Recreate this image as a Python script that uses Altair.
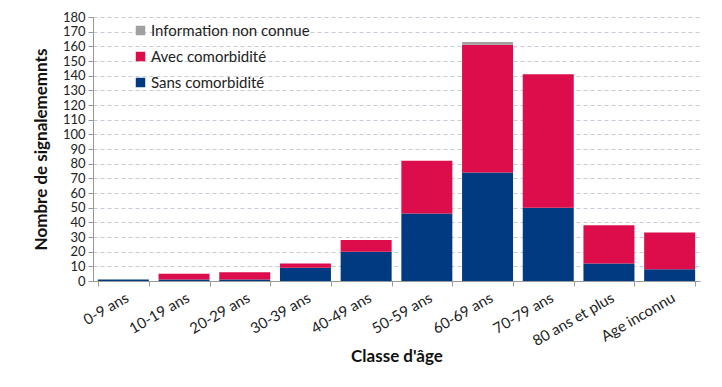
import altair as alt
import pandas as pd

classes = ["0-9 ans", "10-19 ans", "20-29 ans", "30-39 ans", "40-49 ans",
           "50-59 ans", "60-69 ans", "70-79 ans", "80 ans et plus", "Age inconnu"]
sans = [1, 1, 1, 9, 20, 46, 74, 50, 12, 8]
avec = [0, 4, 5, 3, 8, 36, 87, 91, 26, 25]
inconnue = [0, 0, 0, 0, 0, 0, 2, 0, 0, 0]

series = ["Information non connue", "Avec comorbidité", "Sans comorbidité"]
colors = ["#A0A0A0", "#DC0D4A", "#013A81"]

rows = []
for i, c in enumerate(classes):
    rows.append({"classe": c, "serie": "Sans comorbidité", "valeur": sans[i], "ordre": 0})
    rows.append({"classe": c, "serie": "Avec comorbidité", "valeur": avec[i], "ordre": 1})
    rows.append({"classe": c, "serie": "Information non connue", "valeur": inconnue[i], "ordre": 2})
df = pd.DataFrame(rows)

font = "Lato"

chart = alt.Chart(df).mark_bar().encode(
    x=alt.X("classe:N", sort=classes,
            scale=alt.Scale(paddingInner=0.16, paddingOuter=0.08),
            axis=alt.Axis(title="Classe d'âge", labelAngle=-30, labelAlign="right",
                          labelBaseline="top", labelFontSize=15, labelColor="#222",
                          labelPadding=4, labelOverlap=False,
                          tickBand="extent", tickSize=5, tickColor="#999",
                          domainColor="#999", grid=False,
                          titleFontSize=17, titleFontWeight="bold", titleColor="#111",
                          titlePadding=0)),
    y=alt.Y("valeur:Q", stack="zero",
            scale=alt.Scale(domain=[0, 180]),
            axis=alt.Axis(title="Nombre de signalememnts", values=list(range(0, 181, 10)),
                          labelOverlap=False,
                          labelFontSize=13, labelColor="#222", labelPadding=3,
                          tickSize=5, tickColor="#999", domainColor="#999",
                          gridColor="#C4CCD6", gridDash=[4, 3], gridWidth=1,
                          titleFontSize=17, titleFontWeight="bold", titleColor="#111",
                          titlePadding=12)),
    color=alt.Color("serie:N", scale=alt.Scale(domain=series, range=colors),
                    legend=alt.Legend(title=None, orient="none", legendX=40, legendY=6,
                                      symbolType="square", symbolSize=90,
                                      symbolStrokeWidth=0,
                                      labelFontSize=15, labelColor="#222",
                                      rowPadding=10, labelOffset=3)),
    order=alt.Order("ordre:Q"),
).properties(
    width=607, height=264,
    padding={"left": 85, "top": 9, "right": 10, "bottom": 98},
    autosize=alt.AutoSizeParams(type="none"),
).configure(font=font).configure_view(stroke=None)

chart.save("out.html", embed_options={"renderer": "svg", "actions": False})
